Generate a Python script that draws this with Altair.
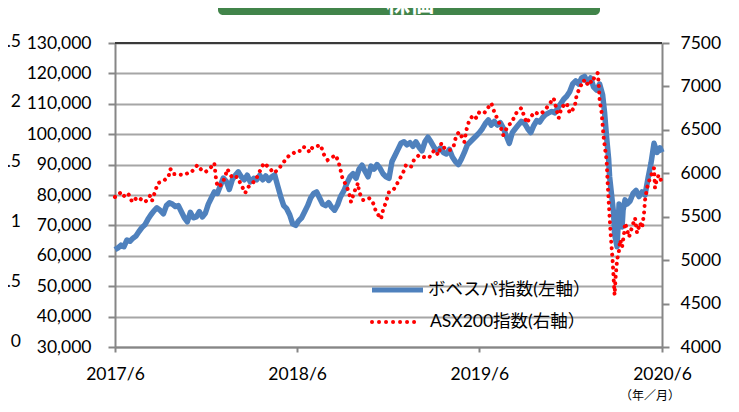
import altair as alt
import pandas as pd

# ---- data (days since 2017-06-30) ----
bov_day = [0, 6, 12, 18, 24, 30, 36, 42, 48, 54, 60, 66, 72, 78, 84, 90, 97, 103, 109, 115,
           121, 127, 133, 139, 145, 151, 157, 163, 169, 175, 181, 187, 193, 199, 205, 211, 217, 223, 229, 235,
           241, 247, 253, 259, 265, 271, 278, 284, 290, 296, 302, 308, 314, 320, 326, 332, 338, 344, 350, 356,
           362, 368, 374, 380, 386, 392, 398, 404, 410, 416, 422, 428, 434, 440, 446, 452, 459, 465, 471, 477,
           483, 489, 495, 501, 507, 513, 519, 525, 531, 537, 543, 549, 555, 561, 567, 573, 579, 585, 591, 597,
           603, 609, 615, 621, 627, 633, 640, 646, 652, 658, 664, 670, 676, 682, 688, 694, 700, 706, 712, 718,
           724, 730, 736, 742, 748, 754, 760, 766, 772, 778, 784, 790, 796, 802, 808, 814, 821, 827, 833, 839,
           845, 851, 857, 863, 869, 875, 881, 887, 893, 899, 905, 911, 917, 923, 929, 935, 941, 947, 953, 959,
           965, 971, 977, 981, 985, 989, 991, 995, 999, 1001, 1006, 1010, 1012, 1016, 1018, 1022, 1026, 1032,
           1038, 1044, 1050, 1056, 1062, 1068, 1074, 1080, 1086, 1092, 1096]
bov_val = [62000, 62600, 63500, 63000, 65200, 64800, 65800, 66500, 68000, 69300, 70200, 72000, 73500, 74800,
           75800, 75000, 73800, 76500, 77400, 77000, 76200, 76500, 74500, 72500, 71200, 74300, 72500, 72800,
           74500, 72800, 74000, 77000, 79000, 81000, 80500, 83000, 85600, 84500, 81800, 85000, 86500, 87600,
           86000, 85000, 86500, 84300, 85500, 85000, 86500, 85000, 86300, 84800, 86000, 86600, 83000, 79500,
           76500, 75500, 73500, 70500, 70000, 71500, 72500, 74500, 76500, 79000, 80500, 81000, 79000, 77000,
           76500, 77500, 76000, 75000, 76800, 79500, 81500, 84000, 86000, 87000, 85500, 88500, 89800, 87800,
           86000, 89500, 88500, 90000, 88800, 87000, 86000, 85500, 91000, 93000, 95000, 97000, 97500, 96500,
           97200, 96000, 97500, 95800, 94500, 97500, 99000, 97500, 95500, 94500, 95500, 94000, 93500, 95000,
           92500, 91000, 90000, 91800, 94000, 96500, 97500, 98500, 99500, 100500, 101800, 103500, 104700,
           103000, 104200, 103000, 103800, 102000, 99500, 97000, 100500, 101800, 103000, 104200, 103500,
           101800, 100500, 102800, 104500, 104000, 105500, 106500, 107000, 107500, 107000, 108500, 110000,
           111500, 112500, 114000, 116500, 117500, 116500, 118500, 119000, 117000, 118500, 115500, 114500,
           116500, 113000, 107000, 99000, 92000, 86000, 80000, 74000, 67000, 63000, 77000, 71000, 69500,
           75000, 78400, 77000, 78000, 80500, 81500, 79500, 81000, 80000, 85500, 90500, 97000, 94000, 95500,
           94000]

asx_day = [0, 6, 10, 16, 24, 30, 34, 40, 46, 52, 60, 66, 70, 74, 80, 86, 97, 103, 107, 111, 117, 125, 131,
           137, 145, 151, 159, 165, 173, 181, 187, 191, 199, 203, 207, 215, 221, 225, 231, 235, 241, 245, 251,
           257, 261, 265, 271, 282, 288, 294, 298, 304, 308, 314, 318, 324, 328, 334, 338, 344, 348, 354, 358,
           364, 372, 378, 384, 390, 396, 404, 412, 418, 426, 434, 442, 448, 452, 456, 463, 469, 473, 479, 487,
           489, 497, 503, 509, 515, 519, 523, 529, 533, 537, 543, 549, 559, 567, 577, 583, 593, 599, 609, 619,
           629, 635, 640, 648, 654, 660, 666, 672, 678, 684, 690, 700, 704, 710, 718, 724, 730, 740, 748, 754,
           760, 770, 778, 788, 794, 804, 814, 825, 831, 841, 849, 855, 863, 869, 879, 889, 895, 905, 911, 921,
           925, 931, 939, 945, 951, 955, 961, 967, 969, 971, 975, 979, 981, 985, 987, 989, 991, 993, 995, 997,
           999, 1001, 1003, 1006, 1010, 1012, 1016, 1020, 1022, 1026, 1030, 1036, 1042, 1046, 1052, 1056, 1060,
           1062, 1066, 1072, 1076, 1080, 1082, 1086, 1090, 1096]
asx_val = [5727, 5760, 5773, 5727, 5773, 5740, 5669, 5700, 5727, 5700, 5669, 5700, 5740, 5680, 5784, 5888,
           5911, 5940, 5957, 6049, 5990, 5992, 5985, 5980, 6000, 6003, 6050, 6095, 6040, 6014, 6040, 6060,
           6118, 5899, 5842, 5880, 5968, 6049, 5990, 5945, 5960, 5957, 5888, 5820, 5773, 5830, 5865, 5922,
           6003, 6060, 6118, 6090, 6072, 6030, 6003, 6030, 6049, 6100, 6130, 6170, 6199, 6220, 6233, 6260,
           6256, 6302, 6291, 6240, 6302, 6310, 6325, 6222, 6153, 6180, 6210, 6130, 6037, 5934, 5865, 5773,
           5669, 5780, 5888, 5784, 5692, 5700, 5715, 5680, 5635, 5554, 5510, 5473, 5577, 5669, 5784, 5819,
           5899, 6003, 6095, 6072, 6153, 6210, 6187, 6176, 6230, 6268, 6210, 6348, 6290, 6268, 6268, 6300,
           6440, 6475, 6360, 6498, 6613, 6670, 6636, 6705, 6693, 6760, 6808, 6705, 6578, 6440, 6555, 6578,
           6693, 6751, 6578, 6636, 6705, 6680, 6693, 6740, 6785, 6866, 6636, 6762, 6808, 6693, 6762, 6900,
           6981, 7073, 7016, 7073, 7039, 7108, 7154, 7050, 6843, 6700, 6417, 6325, 6153, 5900, 5700, 5496,
           5312, 5151, 5001, 4800, 4599, 4800, 5001, 5116, 5231, 5150, 5312, 5427, 5350, 5266, 5381, 5485,
           5312, 5427, 5370, 5542, 5692, 5830, 5945, 6000, 6060, 5830, 5945, 5980, 5888]

left_ticks = [30000, 40000, 50000, 60000, 70000, 80000, 90000, 100000, 110000, 120000, 130000]
right_ticks = [4000, 4500, 5000, 5500, 6000, 6500, 7000, 7500]
x_tick_days = [0, 365, 730, 1096]
x_tick_labels = ["2017/6", "2018/6", "2019/6", "2020/6"]
series_names = ["ボベスパ指数(左軸）", "ASX200指数(右軸）"]
title_text = "株価"
unit_text = "（年／月）"
side_labels = ["2.5", "2", "1.5", "1", "0.5", "0"]

BLUE = "#4F81BD"
RED = "#FF0000"
GRID = "#A6A6A6"
AXC = "#868686"
LAT = "Lato"
JP = "Lato, 'Noto Sans CJK JP'"
FS = 17.5
W, H = 547, 304

bov = pd.DataFrame({"day": bov_day, "val": bov_val})
asx = pd.DataFrame({"day": asx_day, "val": asx_val})
one = pd.DataFrame({"a": [0]})

label_expr = "".join(f"datum.value == {d} ? '{l}' : " for d, l in zip(x_tick_days, x_tick_labels)) + "''"

x_scale = alt.Scale(domain=[0, 1096], nice=False, zero=False)
left_scale = alt.Scale(domain=[30000, 130000], nice=False, zero=False)
right_scale = alt.Scale(domain=[4000, 7500], nice=False, zero=False)

x_enc = alt.X("day:Q", scale=x_scale, axis=alt.Axis(
    values=x_tick_days, labelExpr=label_expr, title=None, grid=False,
    domainColor=AXC, domainWidth=2, tickSize=5, tickColor=AXC, tickWidth=2,
    labelPadding=13, labelFont=LAT, labelFontSize=FS, labelColor="#000",
    labelAngle=0, labelFlush=False, labelOverlap=False))

blue = alt.Chart(bov).mark_line(color=BLUE, strokeWidth=5.5, strokeJoin="round").encode(
    x=x_enc,
    y=alt.Y("val:Q", scale=left_scale, axis=alt.Axis(
        values=left_ticks, format=",.0f", orient="left", title=None,
        grid=True, gridColor=GRID, gridWidth=2,
        domainColor=AXC, domainWidth=2, tickSize=7, tickColor=AXC, tickWidth=2,
        labelPadding=17, labelFont=LAT, labelFontSize=FS, labelColor="#000")),
)

top_rule = alt.Chart(pd.DataFrame({"v": [130000]})).mark_rule(color="#3A3A3A", strokeWidth=2).encode(
    y=alt.Y("v:Q", scale=left_scale, axis=None))

red = alt.Chart(asx).mark_line(color=RED, strokeWidth=4, strokeDash=[0.01, 6.5], strokeCap="round").encode(
    x=alt.X("day:Q", scale=x_scale),
    y=alt.Y("val:Q", scale=right_scale, axis=alt.Axis(
        values=right_ticks, format="d", orient="right", title=None, grid=False,
        domainColor=AXC, domainWidth=2, tickSize=7, tickColor=AXC, tickWidth=2,
        labelPadding=11, labelFont=LAT, labelFontSize=FS, labelColor="#000")),
)

# legend (manual)
leg_blue = alt.Chart(one).mark_rule(color=BLUE, strokeWidth=5).encode(
    x=alt.value(257), x2=alt.value(308), y=alt.value(247))
leg_red = alt.Chart(one).mark_rule(color=RED, strokeWidth=4, strokeDash=[0.01, 7], strokeCap="round").encode(
    x=alt.value(257), x2=alt.value(306), y=alt.value(279))
leg_t1 = alt.Chart(one).mark_text(text=series_names[0], font=JP, fontSize=FS, align="left",
                                  baseline="middle", color="#000").encode(x=alt.value(313), y=alt.value(247))
leg_t2 = alt.Chart(one).mark_text(text=series_names[1], font=JP, fontSize=FS, align="left",
                                  baseline="middle", color="#000").encode(x=alt.value(315), y=alt.value(279))

# decorations outside the plot
title_box = alt.Chart(one).mark_rect(color="#41844A", cornerRadius=5).encode(
    x=alt.value(103), x2=alt.value(485), y=alt.value(-48), y2=alt.value(-28))
title_t = alt.Chart(one).mark_text(text=title_text, font="'Noto Sans CJK JP'", fontWeight="bold",
                                   fontSize=24, color="white", align="center", baseline="alphabetic").encode(
    x=alt.value(295), y=alt.value(-31))
unit_t = alt.Chart(one).mark_text(text=unit_text, font="'Noto Sans CJK JP'", fontSize=12, color="#000",
                                  align="center", baseline="middle").encode(x=alt.value(535), y=alt.value(353))
side = [alt.Chart(one).mark_text(text=s, font=LAT, fontSize=FS, color="#000", align="right",
                                 baseline="middle").encode(x=alt.value(-94), y=alt.value(-1 + 60 * i))
        for i, s in enumerate(side_labels)]

chart = alt.layer(
    blue, top_rule, red, leg_blue, leg_red, leg_t1, leg_t2, title_box, title_t, unit_t, *side
).resolve_scale(y="independent").properties(
    width=W, height=H,
    padding={"left": 107, "top": 35, "right": 68, "bottom": 57},
    autosize=alt.AutoSizeParams(type="none"),
).configure_view(stroke=None)

chart.save("out.html", embed_options={"renderer": "svg", "actions": False})
